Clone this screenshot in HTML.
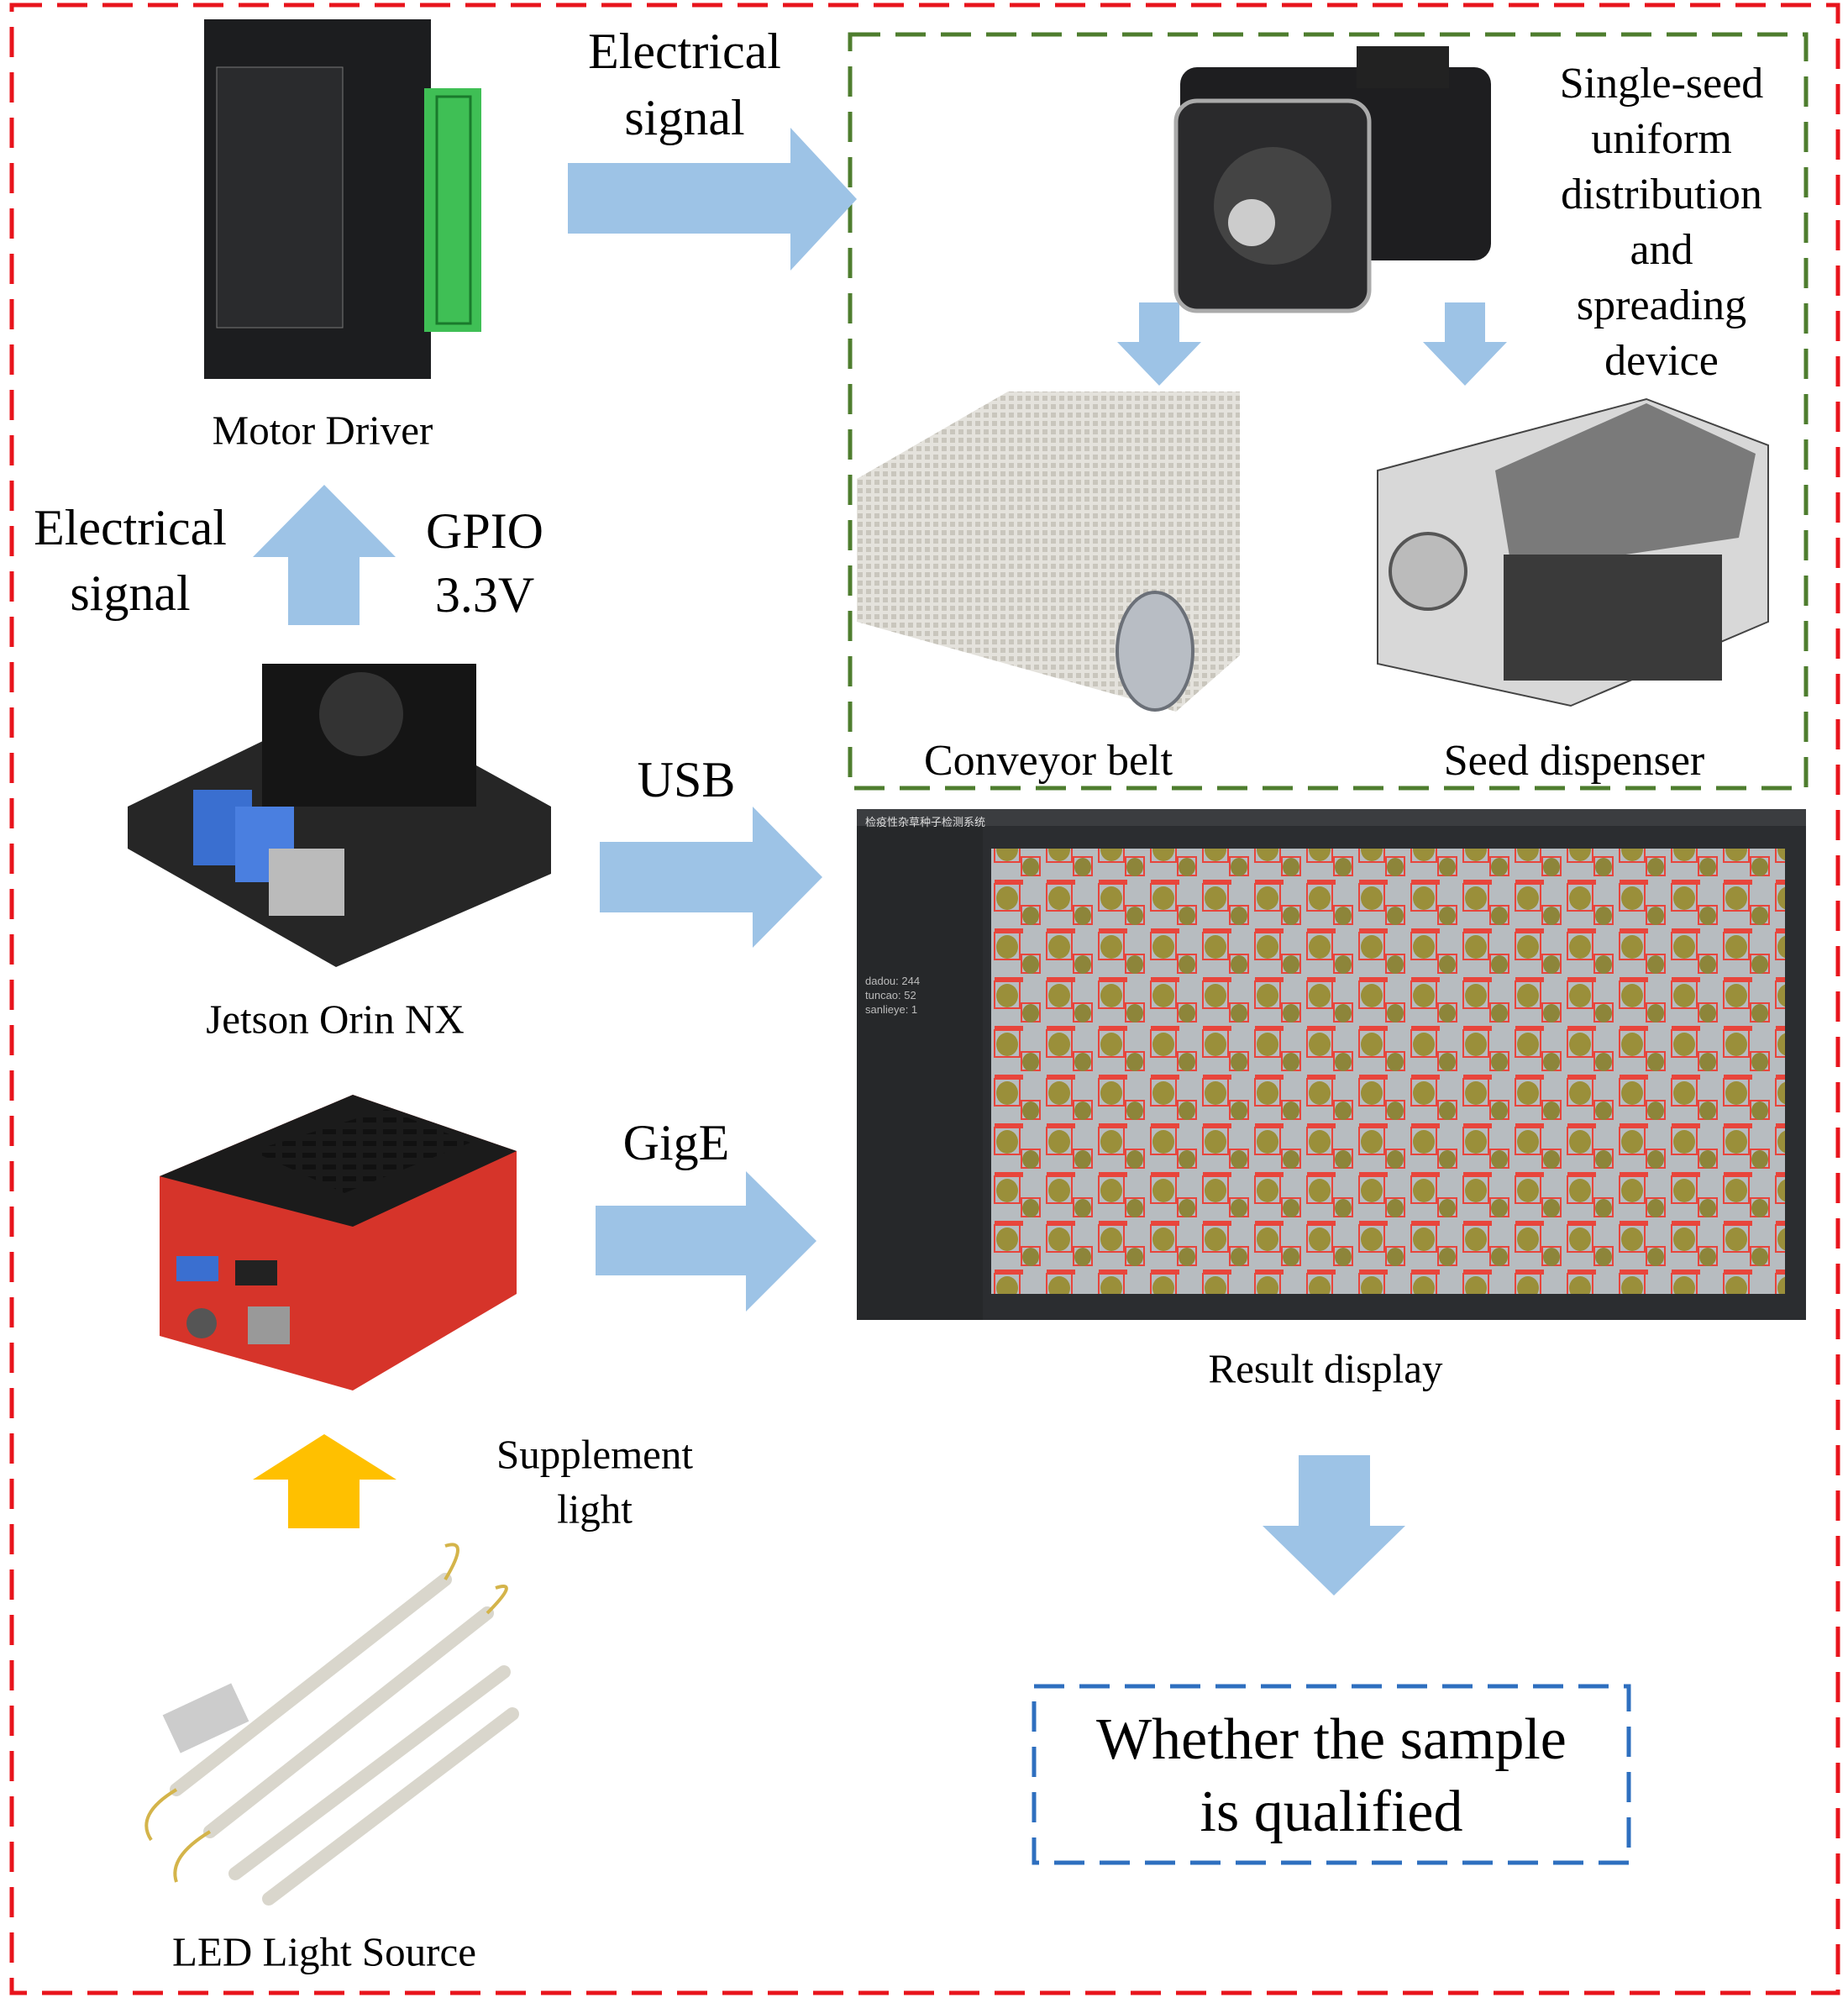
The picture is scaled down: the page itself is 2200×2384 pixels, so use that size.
<!DOCTYPE html>
<html><head><meta charset="utf-8"><style>
html,body{margin:0;padding:0;background:#fff}
body{width:2200px;height:2384px;position:relative;overflow:hidden;font-family:"Liberation Serif",serif;color:#000}
.t{position:absolute;text-align:center;transform:translate(-50%,-50%);white-space:nowrap;line-height:1}
.b{position:absolute}
</style></head><body>
<svg width="2200" height="2384" style="position:absolute;left:0;top:0">
<defs>
<pattern id="seeds" width="62" height="58" patternUnits="userSpaceOnUse">
<rect x="6" y="8" width="30" height="32" fill="none" stroke="#e8453c" stroke-width="2"/>
<rect x="6" y="3" width="34" height="6" fill="#e8453c"/>
<ellipse cx="21" cy="25" rx="13" ry="14" fill="#9a8f3a"/>
<rect x="38" y="34" width="22" height="22" fill="none" stroke="#e8453c" stroke-width="2"/>
<ellipse cx="49" cy="46" rx="10" ry="11" fill="#8d853a"/>
</pattern>
<pattern id="knit" width="10" height="10" patternUnits="userSpaceOnUse">
<rect width="10" height="10" fill="#e4e2dc"/><rect x="1" y="1" width="6" height="6" fill="#c9c6bd"/>
</pattern>
<pattern id="vent" width="24" height="14" patternUnits="userSpaceOnUse">
<rect width="16" height="6" fill="#111"/>
</pattern>
</defs>
<!-- outer red dashed -->
<rect x="14" y="6" width="2174" height="2366" fill="none" stroke="#e8141c" stroke-width="5" stroke-dasharray="36,18"/>
<!-- green dashed -->
<rect x="1012" y="41" width="1138" height="897" fill="none" stroke="#4e7d2e" stroke-width="5" stroke-dasharray="36,18"/>
<!-- blue dashed -->
<rect x="1231" y="2007" width="708" height="210" fill="none" stroke="#2e6fbf" stroke-width="5" stroke-dasharray="36,18"/>

<!-- arrows -->
<g fill="#9dc3e6">
<polygon points="676,194 941,194 941,152 1020,237 941,322 941,278 676,278"/>
<polygon points="343,744 343,663 301,663 386,577 471,663 428,663 428,744"/>
<polygon points="1356,360 1404,360 1404,407 1430,407 1380,459 1330,407 1356,407"/>
<polygon points="1720,360 1768,360 1768,407 1794,407 1744,459 1694,407 1720,407"/>
<polygon points="714,1002 896,1002 896,960 979,1044 896,1128 896,1086 714,1086"/>
<polygon points="709,1435 888,1435 888,1394 972,1477 888,1561 888,1518 709,1518"/>
<polygon points="1546,1732 1631,1732 1631,1816 1673,1816 1588,1899 1503,1816 1546,1816"/>
</g>
<polygon fill="#ffc000" points="343,1819 343,1761 301,1761 386,1707 472,1761 428,1761 428,1819"/>

<!-- motor driver -->
<rect x="243" y="23" width="270" height="428" fill="#1c1d1f"/>
<rect x="258" y="80" width="150" height="310" fill="#2a2b2d" stroke="#777" stroke-width="1"/>
<rect x="505" y="105" width="68" height="290" fill="#3fbf55"/>
<g fill="#1a7a2c"><rect x="520" y="115" width="40" height="270" fill="none" stroke="#1a7a2c" stroke-width="3"/></g>
<!-- motor -->
<rect x="1405" y="80" width="370" height="230" rx="20" fill="#1e1e20"/>
<rect x="1400" y="120" width="230" height="250" rx="25" fill="#2a2a2c" stroke="#aaa" stroke-width="5"/>
<circle cx="1515" cy="245" r="70" fill="#444"/><circle cx="1490" cy="265" r="28" fill="#ccc"/>
<rect x="1615" y="55" width="110" height="50" fill="#222"/>
<!-- conveyor -->
<polygon points="1020,570 1200,466 1476,466 1476,780 1400,847 1020,740" fill="url(#knit)"/>
<ellipse cx="1375" cy="775" rx="45" ry="70" fill="#b8bdc4" stroke="#6b7078" stroke-width="4"/>
<!-- seed dispenser -->
<polygon points="1640,560 1960,475 2105,530 2105,740 1870,840 1640,790" fill="#d8d8d8" stroke="#444" stroke-width="2"/>
<polygon points="1780,560 1960,480 2090,540 2070,640 1800,680" fill="#7a7a7a"/>
<rect x="1790" y="660" width="260" height="150" fill="#3a3a3a"/>
<circle cx="1700" cy="680" r="45" fill="#bbb" stroke="#555" stroke-width="4"/>
<!-- jetson -->
<polygon points="152,960 420,830 656,960 656,1040 400,1151 152,1010" fill="#262626"/>
<rect x="312" y="790" width="255" height="170" fill="#151515"/>
<circle cx="430" cy="850" r="50" fill="#333"/>
<rect x="230" y="940" width="70" height="90" fill="#3a6fd0"/>
<rect x="280" y="960" width="70" height="90" fill="#4a7fe0"/>
<rect x="320" y="1010" width="90" height="80" fill="#bbb"/>
<!-- camera -->
<polygon points="190,1400 420,1303 615,1370 615,1540 420,1655 190,1590" fill="#d6342a"/>
<polygon points="190,1400 420,1303 615,1370 420,1460" fill="#1b1b1b"/>
<polygon points="300,1370 460,1320 560,1360 410,1420" fill="url(#vent)"/>
<rect x="210" y="1495" width="50" height="30" fill="#3a6fd0"/>
<rect x="280" y="1500" width="50" height="30" fill="#222"/>
<rect x="295" y="1555" width="50" height="45" fill="#999"/>
<circle cx="240" cy="1575" r="18" fill="#555"/>
<!-- LED -->
<g stroke="#d9d6cc" stroke-width="16" stroke-linecap="round">
<line x1="210" y1="2130" x2="530" y2="1880"/>
<line x1="250" y1="2180" x2="580" y2="1920"/>
<line x1="280" y1="2230" x2="600" y2="1990"/>
<line x1="320" y1="2260" x2="610" y2="2040"/>
</g>
<g fill="none" stroke="#d4b44a" stroke-width="4">
<path d="M210,2130 q-50,30 -30,60"/><path d="M250,2180 q-50,30 -40,60"/><path d="M530,1880 q30,-50 0,-40"/><path d="M580,1920 q40,-40 10,-30"/>
</g>
<rect x="200" y="2020" width="90" height="50" fill="#ccc" transform="rotate(-25 245 2045)"/>
<!-- result display -->
<rect x="1020" y="963" width="1130" height="608" fill="#2b2d30"/>
<rect x="1020" y="963" width="1130" height="20" fill="#3b3d40"/>
<rect x="1020" y="983" width="150" height="588" fill="#26282a"/>
<rect x="1180" y="1010" width="945" height="530" fill="#b7bcc0"/>
<rect x="1180" y="1010" width="945" height="530" fill="url(#seeds)"/>
</svg>
<div class="b" style="left:1030px;top:968px;font:13px 'Noto Sans CJK SC',sans-serif;color:#ddd">检疫性杂草种子检测系统</div>
<div class="b" style="left:1030px;top:1160px;font:13px 'Liberation Sans',sans-serif;color:#bbb;line-height:1.3">dadou: 244<br>tuncao: 52<br>sanlieye: 1</div>

<div class="t" style="left:815px;top:61px;font-size:60px">Electrical</div>
<div class="t" style="left:815px;top:140px;font-size:60px">signal</div>
<div class="t" style="left:384px;top:512px;font-size:49px">Motor Driver</div>
<div class="t" style="left:155px;top:628px;font-size:60px">Electrical</div>
<div class="t" style="left:155px;top:706px;font-size:60px">signal</div>
<div class="t" style="left:577px;top:632px;font-size:60px">GPIO</div>
<div class="t" style="left:577px;top:708px;font-size:60px">3.3V</div>
<div class="t" style="left:817px;top:928px;font-size:60px">USB</div>
<div class="t" style="left:399px;top:1213px;font-size:49px">Jetson Orin NX</div>
<div class="t" style="left:805px;top:1360px;font-size:60px">GigE</div>
<div class="t" style="left:708px;top:1731px;font-size:49px">Supplement</div>
<div class="t" style="left:708px;top:1796px;font-size:49px">light</div>
<div class="t" style="left:386px;top:2323px;font-size:49px">LED Light Source</div>
<div class="t" style="left:1578px;top:1629px;font-size:49px">Result display</div>
<div class="t" style="left:1585px;top:2071px;font-size:70px">Whether the sample</div>
<div class="t" style="left:1585px;top:2157px;font-size:70px">is qualified</div>
<div class="t" style="left:1978px;top:100px;font-size:52px">Single-seed</div>
<div class="t" style="left:1978px;top:166px;font-size:52px">uniform</div>
<div class="t" style="left:1978px;top:232px;font-size:52px">distribution</div>
<div class="t" style="left:1978px;top:298px;font-size:52px">and</div>
<div class="t" style="left:1978px;top:364px;font-size:52px">spreading</div>
<div class="t" style="left:1978px;top:430px;font-size:52px">device</div>
<div class="t" style="left:1248px;top:906px;font-size:52px">Conveyor belt</div>
<div class="t" style="left:1874px;top:906px;font-size:52px">Seed dispenser</div>
</body></html>
